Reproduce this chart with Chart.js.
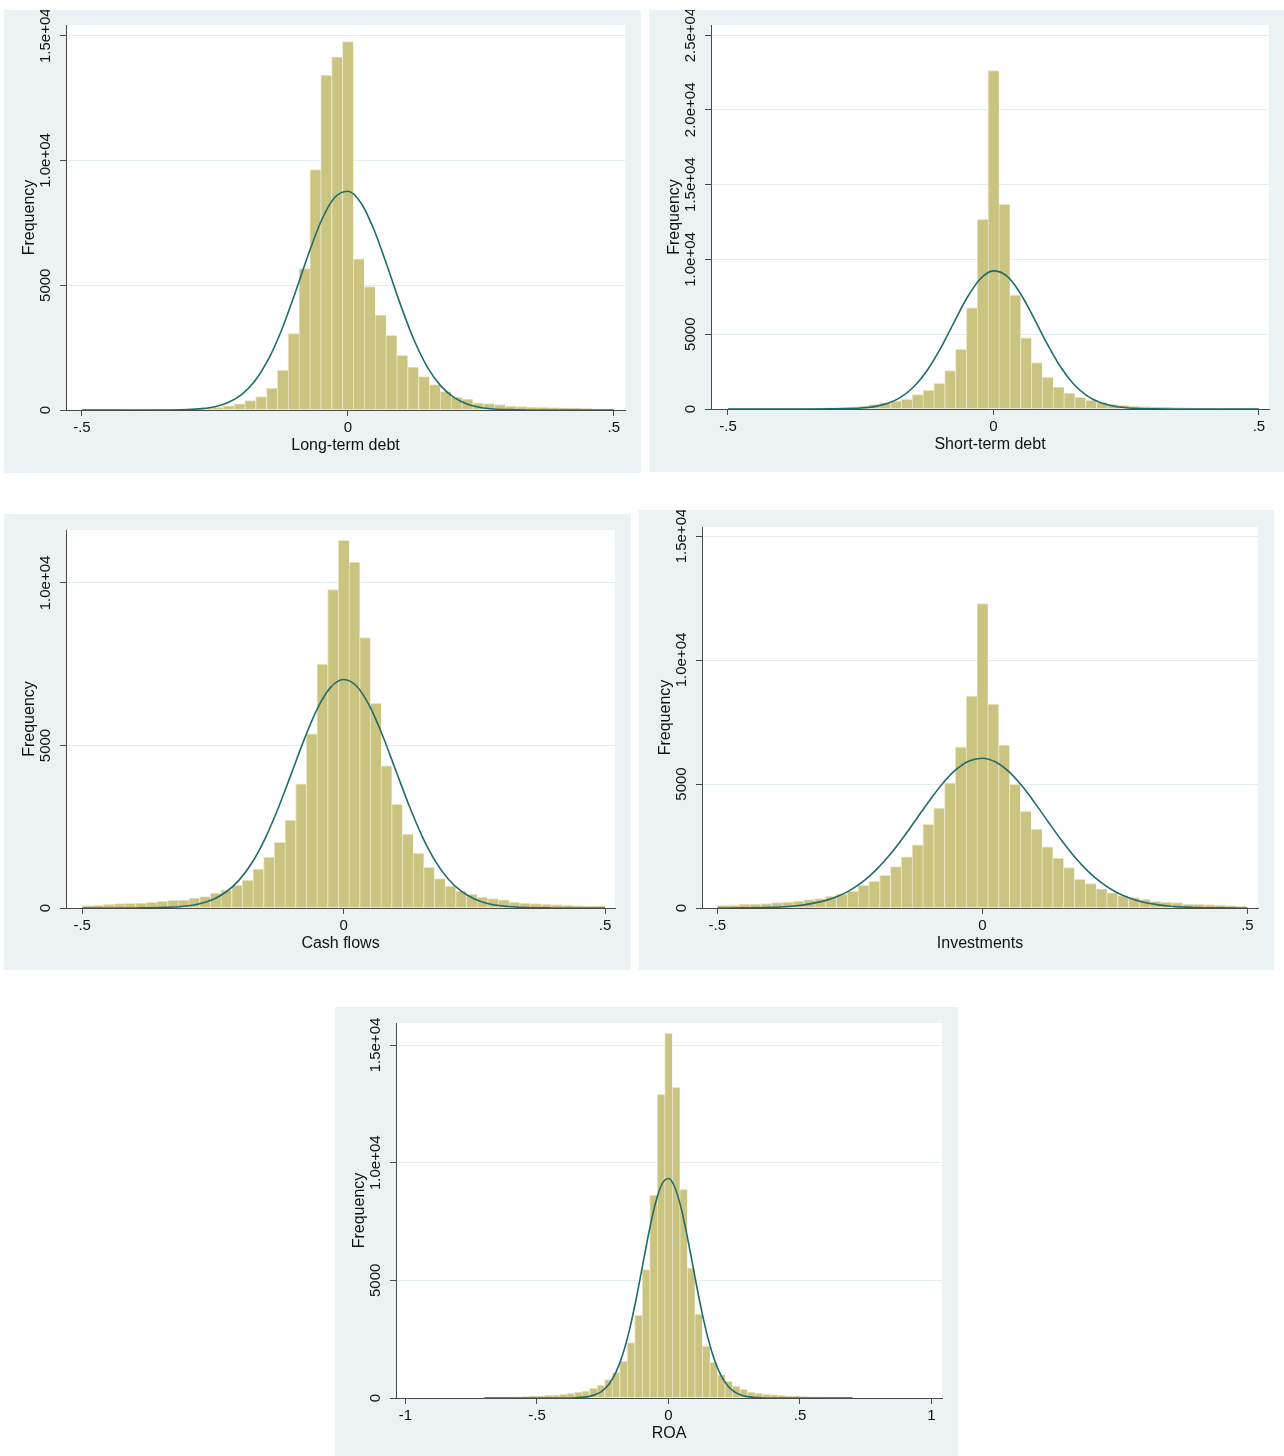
<!DOCTYPE html>
<html><head><meta charset="utf-8">
<script src="https://cdn.jsdelivr.net/npm/chart.js@4.4.1/dist/chart.umd.min.js"></script>
<style>
html,body{margin:0;padding:0;background:#fff;}
body{width:1284px;height:1456px;position:relative;overflow:hidden;}
.panel{position:absolute;background:#eaf2f3;}
canvas{display:block;}
</style></head><body>
<div class="panel" id="p1"><canvas id="c1"></canvas></div>
<div class="panel" id="p2"><canvas id="c2"></canvas></div>
<div class="panel" id="p3"><canvas id="c3"></canvas></div>
<div class="panel" id="p4"><canvas id="c4"></canvas></div>
<div class="panel" id="p5"><canvas id="c5"></canvas></div>
<script>
// ---------- DATA ----------
// histogram bin ranges (bins equally split this range; count = length of counts array)
const binRangeMain = [-0.5, 0.5];
const binRangeROA = [-0.7, 0.7];

// frequencies per bin
const longTermDebtCounts = [10,12,15,18,20,22,25,30,35,45,
  55,75,110,165,245,380,540,880,1590,3060,
  5670,9640,13420,14150,14770,6060,4950,3800,2990,2190,
  1720,1340,1020,735,521,441,281,254,214,160,
  134,120,107,94,80,67,53,40,40];
const shortTermDebtCounts = [15,15,18,20,22,25,30,40,55,75,
  100,130,175,312,424,536,647,960,1250,1719,
  2567,3995,6763,12680,22630,13680,7611,4754,3102,2120,
  1473,1071,781,580,446,312,245,200,156,134,
  110,90,70,55,45,35,28,22,18];
const cashFlowCounts = [72,92,113,133,143,154,174,205,236,246,
  308,349,461,554,697,861,1199,1558,2019,2706,
  3823,5361,7503,9799,11316,10640,8323,6294,4377,3188,
  2276,1681,1251,902,677,523,420,328,287,250,
  185,154,133,113,103,92,72,62,62];
const investmentCounts = [108,108,162,162,175,216,243,283,337,377,
  472,566,674,917,1078,1321,1672,2062,2548,3370,
  4031,5042,6484,8546,12280,8223,6565,4988,3896,3181,
  2467,2009,1631,1159,984,768,607,499,418,350,
  270,243,216,162,148,135,121,94,54];
const roaCounts = [14,14,28,28,42,57,71,85,113,127,
  156,198,255,297,411,538,779,1076,1558,2351,
  3512,5452,8623,12900,15491,13197,8864,5522,3568,2209,
  1515,991,708,510,368,255,198,170,142,113,
  85,71,57,42,42,28,28,14,14];

// normal-density overlay, points
const curveXMain = [-0.5,-0.45,-0.4,-0.35,-0.3,-0.275,-0.25,-0.225,-0.2,-0.175,-0.15,-0.125,-0.1,-0.075,-0.05,-0.025,0,
  0.025,0.05,0.075,0.1,0.125,0.15,0.175,0.2,0.225,0.25,0.275,0.3,0.35,0.4,0.45,0.5];
const curveXROA = [-0.7,-0.5,-0.4,-0.35,-0.3,-0.275,-0.25,-0.225,-0.2,-0.175,-0.15,-0.125,-0.1,-0.075,-0.05,-0.025,0,
  0.025,0.05,0.075,0.1,0.125,0.15,0.175,0.2,0.225,0.25,0.275,0.3,0.35,0.4,0.5,0.7];
const longTermDebtCurve = [0,0,0,2,21,55,133,299,614,1161,2007,3186,4640,6194,7584,8516,8770,
  8284,7176,5702,4154,2775,1701,956,493,233,101,40,15,2,0,0,0];
const shortTermDebtCurve = [0,0,0,0,7,22,62,159,369,778,1484,2569,4034,5745,7419,8691,9233,
  8897,7775,6163,4431,2888,1708,917,446,197,79,29,10,1,0,0,0];
const cashFlowCurve = [0,0,2,12,63,133,264,492,858,1401,2145,3076,4134,5204,6140,6787,7030,
  6823,6204,5286,4221,3159,2213,1452,894,516,279,141,67,12,2,0,0];
const investmentCurve = [1,6,25,90,277,454,713,1074,1549,2136,2823,3572,4327,5020,5576,5930,6039,
  5889,5499,4916,4209,3450,2708,2035,1465,1009,666,421,254,82,22,5,1];
const roaCurve = [0,0,1,12,70,155,318,607,1086,1812,2818,4090,5540,7001,8255,9083,9325,
  8933,7985,6661,5184,3766,2551,1613,951,523,269,129,58,9,1,0,0];

// axis ticks and labels
const xTicksMain = [-0.5, 0, 0.5];
const xTickLabelsMain = ['-.5', '0', '.5'];
const xTicksROA = [-1, -0.5, 0, 0.5, 1];
const xTickLabelsROA = ['-1', '-.5', '0', '.5', '1'];
const yTicks15 = [0, 5000, 10000, 15000];
const yTickLabels15 = ['0', '5000', '1.0e+04', '1.5e+04'];
const yTicks25 = [0, 5000, 10000, 15000, 20000, 25000];
const yTickLabels25 = ['0', '5000', '1.0e+04', '1.5e+04', '2.0e+04', '2.5e+04'];
const yTicks10 = [0, 5000, 10000];
const yTickLabels10 = ['0', '5000', '1.0e+04'];

const titles = ['Long-term debt', 'Short-term debt', 'Cash flows', 'Investments', 'ROA'];

// ---------- STYLE / LAYOUT ----------
const FONT = "'Liberation Sans', Arial, Helvetica, sans-serif";
const BAR = '#cbc480';
const BAR_EDGE = '#e9e5c2';
const CURVE = '#216c6c';
const AXIS = '#4a4a4a';
const GRID = '#e3ecee';
const TEXT = '#111';

const panels = [
  {n:1, bg:[4,10,641,473], area:[66,25,625,410], xr:[-0.530,0.521], yMax:15430, title:titles[0],
   counts:longTermDebtCounts, range:binRangeMain, cx:curveXMain, cy:longTermDebtCurve,
   xt:xTicksMain, xl:xTickLabelsMain, yt:yTicks15, yl:yTickLabels15},
  {n:2, bg:[649,10,1284,472], area:[711,25,1269,409], xr:[-0.532,0.519], yMax:25670, title:titles[1],
   counts:shortTermDebtCounts, range:binRangeMain, cx:curveXMain, cy:shortTermDebtCurve,
   xt:xTicksMain, xl:xTickLabelsMain, yt:yTicks25, yl:yTickLabels25},
  {n:3, bg:[4,514,631,970], area:[66,530,615,908], xr:[-0.531,0.519], yMax:11630, title:titles[2],
   counts:cashFlowCounts, range:binRangeMain, cx:curveXMain, cy:cashFlowCurve,
   xt:xTicksMain, xl:xTickLabelsMain, yt:yTicks10, yl:yTickLabels10},
  {n:4, bg:[639,510,1274,970], area:[702,527,1258,908], xr:[-0.529,0.520], yMax:15363, title:titles[3],
   counts:investmentCounts, range:binRangeMain, cx:curveXMain, cy:investmentCurve,
   xt:xTicksMain, xl:xTickLabelsMain, yt:yTicks15, yl:yTickLabels15},
  {n:5, bg:[335,1007,958,1456], area:[396,1023,942,1398], xr:[-1.036,1.04], yMax:15935, title:titles[4],
   counts:roaCounts, range:binRangeROA, cx:curveXROA, cy:roaCurve,
   xt:xTicksROA, xl:xTickLabelsROA, yt:yTicks15, yl:yTickLabels15}
];

const plotBg = {
  id:'plotBg',
  beforeDraw(chart){
    const a = chart.chartArea, ctx = chart.ctx;
    ctx.save(); ctx.fillStyle = '#ffffff';
    ctx.fillRect(a.left, a.top, a.right - a.left, a.bottom - a.top);
    ctx.restore();
  }
};
const yLabels = {
  id:'yLabels',
  afterDraw(chart, args, opts){
    const s = chart.scales.y, ctx = chart.ctx;
    ctx.save();
    ctx.font = '15px ' + FONT; ctx.fillStyle = TEXT;
    ctx.textAlign = 'center'; ctx.textBaseline = 'middle';
    s.ticks.forEach((t, i) => {
      const py = s.getPixelForValue(t.value);
      ctx.save(); ctx.translate(s.right - 20, py); ctx.rotate(-Math.PI / 2);
      ctx.fillText(opts.labels[i], 0, 0); ctx.restore();
    });
    ctx.restore();
  }
};

function makeChart(p){
  const W = p.bg[2] - p.bg[0], H = p.bg[3] - p.bg[1];
  const div = document.getElementById('p' + p.n);
  Object.assign(div.style, {left:p.bg[0]+'px', top:p.bg[1]+'px', width:W+'px', height:H+'px'});
  const cv = document.getElementById('c' + p.n);
  cv.width = W; cv.height = H; cv.style.width = W + 'px'; cv.style.height = H + 'px';
  const leftW = p.area[0] - p.bg[0], topPad = p.area[1] - p.bg[1];
  const rightPad = p.bg[2] - p.area[2], bottomH = p.bg[3] - p.area[3];
  const nb = p.counts.length, bw = (p.range[1] - p.range[0]) / nb;
  const bars = p.counts.map((c, i) => ({x: p.range[0] + (i + 0.5) * bw, y: c}));
  const curve = p.cx.map((x, i) => ({x: x, y: p.cy[i]}));
  new Chart(cv, {
    type:'bar',
    data:{datasets:[
      {type:'line', data:curve, borderColor:CURVE, borderWidth:1.6, pointRadius:0,
       cubicInterpolationMode:'monotone', fill:false, order:0},
      {type:'bar', data:bars, backgroundColor:BAR, borderColor:BAR_EDGE,
       borderWidth:{left:1, top:1, right:0, bottom:0}, borderSkipped:false,
       barPercentage:1, categoryPercentage:1, order:1}
    ]},
    options:{
      responsive:false, animation:false, devicePixelRatio:1,
      layout:{padding:{left:0, top:topPad, right:rightPad, bottom:0}},
      plugins:{legend:{display:false}, tooltip:{enabled:false}, yLabels:{labels:p.yl}},
      scales:{
        x:{type:'linear', min:p.xr[0], max:p.xr[1], offset:false,
          afterBuildTicks:s => { s.ticks = p.xt.map(v => ({value:v})); },
          afterFit:s => { s.height = bottomH; },
          ticks:{callback:(v, i) => p.xl[i], font:{family:FONT, size:15}, color:TEXT,
            padding:3, maxRotation:0, minRotation:0, autoSkip:false},
          grid:{display:true, drawOnChartArea:false, drawTicks:true, tickLength:6, tickColor:AXIS, offset:false},
          border:{display:true, color:AXIS, width:1},
          title:{display:true, text:p.title, font:{family:FONT, size:16}, color:TEXT,
            padding:{top:0, bottom:bottomH - 36 - 9.6}}
        },
        y:{type:'linear', min:0, max:p.yMax,
          afterBuildTicks:s => { s.ticks = p.yt.map(v => ({value:v})); },
          afterFit:s => { s.width = leftW; },
          ticks:{display:false},
          grid:{color:GRID, lineWidth:1, drawTicks:true, tickLength:6, tickColor:AXIS},
          border:{display:true, color:AXIS, width:1},
          title:{display:true, text:'Frequency', font:{family:FONT, size:16}, color:TEXT,
            padding:{top:leftW - 36.5 - 9.6, bottom:0}}
        }
      }
    },
    plugins:[plotBg, yLabels]
  });
}
panels.forEach(makeChart);
</script>
</body></html>
